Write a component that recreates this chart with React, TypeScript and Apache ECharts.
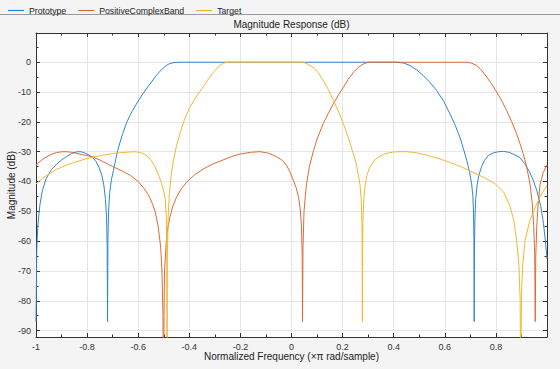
import React, { useEffect, useRef } from "react";
import * as echarts from "echarts";

const seriesNames = ["Prototype", "PositiveComplexBand", "Target"];

const prototype: number[][] = [
  [-1, -87], [-0.997, -63], [-0.993, -55], [-0.985, -48], [-0.975, -43], [-0.96, -39],
  [-0.94, -36], [-0.92, -34.3], [-0.9, -32.8], [-0.88, -31.6], [-0.86, -30.6], [-0.84, -30.05],
  [-0.825, -30], [-0.81, -30.4], [-0.795, -31], [-0.78, -31.8], [-0.765, -33.3], [-0.752, -35.5],
  [-0.742, -38], [-0.734, -41.5], [-0.728, -46], [-0.724, -52], [-0.7215, -62], [-0.72, -87],
  [-0.7185, -60], [-0.716, -50], [-0.712, -44], [-0.705, -39.5], [-0.697, -36.3], [-0.688, -32.6],
  [-0.68, -29.6], [-0.67, -26.5], [-0.661, -24], [-0.645, -20.2], [-0.63, -17.5], [-0.622, -16.2],
  [-0.6, -13], [-0.582, -10.6], [-0.56, -8], [-0.53, -4.5], [-0.51, -2.6], [-0.49, -1.1],
  [-0.478, -0.5], [-0.46, -0.12], [-0.44, 0], [0, 0], [0.412, 0], [0.44, -0.3], [0.464, -1.1],
  [0.49, -2.6], [0.516, -4.5], [0.54, -6.6], [0.568, -9.5], [0.595, -13], [0.62, -17.3],
  [0.64, -21], [0.659, -25.1], [0.673, -29], [0.686, -33], [0.696, -36.5], [0.705, -40.8],
  [0.71, -45], [0.7125, -51], [0.714, -60], [0.715, -87], [0.716, -62], [0.718, -52],
  [0.721, -46], [0.726, -41.5], [0.733, -38], [0.744, -35], [0.755, -33], [0.77, -31.3],
  [0.79, -30.4], [0.81, -30], [0.83, -29.9], [0.85, -30.2], [0.87, -30.9], [0.894, -32],
  [0.912, -34], [0.93, -36.5], [0.946, -39.5], [0.96, -43], [0.975, -48], [0.986, -54],
  [0.995, -61], [1, -66],
];

const positiveComplexBand: number[][] = [
  [-1, -34.5], [-0.98, -33], [-0.96, -31.8], [-0.94, -30.9], [-0.92, -30.3], [-0.9, -30.05],
  [-0.883, -30], [-0.86, -30.2], [-0.84, -30.6], [-0.82, -31], [-0.8, -31.3], [-0.778, -31.8],
  [-0.75, -32.8], [-0.72, -34.1], [-0.7, -35], [-0.66, -36.6], [-0.63, -38], [-0.6, -40],
  [-0.58, -42], [-0.56, -44.5], [-0.545, -47.3], [-0.534, -50], [-0.522, -55], [-0.512, -62],
  [-0.507, -70], [-0.503, -85], [-0.501, -120], [-0.499, -85], [-0.497, -70], [-0.49, -60],
  [-0.483, -55], [-0.476, -52], [-0.465, -48.5], [-0.449, -45], [-0.43, -42.3], [-0.41, -40.2],
  [-0.38, -37.8], [-0.345, -35.8], [-0.31, -34.2], [-0.28, -33.2], [-0.24, -31.8], [-0.202, -30.8],
  [-0.16, -30.2], [-0.123, -30], [-0.09, -30.5], [-0.058, -31.7], [-0.035, -33], [-0.019, -34.6],
  [-0.005, -37], [0.007, -39.6], [0.018, -42], [0.027, -45], [0.034, -49], [0.039, -55],
  [0.042, -65], [0.043, -87], [0.045, -62], [0.049, -50], [0.054, -45], [0.059, -40.8],
  [0.07, -35], [0.085, -30], [0.1, -25.8], [0.124, -20.6], [0.145, -17], [0.164, -13.9],
  [0.185, -10.8], [0.203, -8.4], [0.222, -5.8], [0.242, -3.4], [0.262, -1.7], [0.281, -0.6],
  [0.3, 0], [0.686, 0], [0.705, -0.3], [0.725, -1.1], [0.745, -2.8], [0.764, -5],
  [0.785, -7.5], [0.803, -10], [0.822, -12.8], [0.842, -16.2], [0.862, -20], [0.881, -24],
  [0.895, -27.5], [0.907, -30.7], [0.92, -35], [0.933, -40.5], [0.942, -47], [0.948, -55],
  [0.952, -65], [0.954, -87], [0.956, -65], [0.96, -55], [0.965, -48], [0.973, -41],
  [0.985, -37], [1, -34.5],
];

const target: number[][] = [
  [-1, -40.8], [-0.975, -39], [-0.948, -37.4], [-0.92, -35.9], [-0.883, -34.6], [-0.85, -33.6],
  [-0.804, -32.4], [-0.77, -31.7], [-0.739, -31.2], [-0.7, -30.6], [-0.648, -30.2], [-0.615, -30],
  [-0.59, -30.3], [-0.569, -31.2], [-0.552, -32.6], [-0.537, -34.6], [-0.524, -37], [-0.511, -40],
  [-0.502, -42.5], [-0.494, -46], [-0.49, -52], [-0.488, -62], [-0.487, -120], [-0.486, -65],
  [-0.483, -52], [-0.478, -44], [-0.47, -37], [-0.46, -32], [-0.45, -28], [-0.435, -23.5],
  [-0.42, -19.5], [-0.4, -15.5], [-0.38, -12.5], [-0.36, -10], [-0.34, -7.5], [-0.32, -5],
  [-0.3, -2.8], [-0.28, -1], [-0.265, -0.25], [-0.25, 0], [0.046, 0], [0.06, -0.5],
  [0.085, -1.7], [0.105, -3.6], [0.124, -6.1], [0.145, -9.3], [0.164, -12.8], [0.185, -16.8],
  [0.203, -20.6], [0.222, -25.2], [0.242, -30.7], [0.253, -34], [0.261, -37.4], [0.268, -41],
  [0.273, -46], [0.276, -55], [0.2775, -87], [0.2785, -60], [0.28, -52], [0.283, -46],
  [0.288, -41.5], [0.295, -38], [0.305, -35.5], [0.32, -33.3], [0.34, -31.8], [0.36, -30.9],
  [0.38, -30.4], [0.4, -30.1], [0.425, -30], [0.45, -30], [0.475, -30.2], [0.503, -30.6],
  [0.535, -31.3], [0.568, -32.1], [0.6, -33], [0.633, -34], [0.67, -35.3], [0.699, -36.5],
  [0.73, -37.7], [0.764, -39.1], [0.8, -41], [0.83, -43.5], [0.855, -48.3], [0.87, -53],
  [0.881, -59.8], [0.89, -68], [0.895, -80], [0.897, -120], [0.9, -78], [0.905, -68],
  [0.914, -59.8], [0.933, -53], [0.96, -47.5], [0.98, -44], [1, -41.3],
];

const colors = ["#2f86cf", "#dd6a36", "#efb832"];
const FONT = '"Liberation Sans", Arial, Helvetica, sans-serif';
const AXIS_COLOR = "#333";
const GRID_COLOR = "#e6e6e6";

export default function App() {
  const ref = useRef<HTMLDivElement>(null);

  useEffect(() => {
    if (!ref.current) return;
    const chart = echarts.init(ref.current, undefined, { renderer: "svg" });

    const baseX = {
      type: "value" as const,
      min: -1,
      max: 1,
      interval: 0.2,
      axisLine: { show: true, onZero: false, lineStyle: { color: AXIS_COLOR, width: 1 } },
      axisTick: { show: true, inside: true, length: 4, lineStyle: { color: AXIS_COLOR } },
      minorTick: { show: true, splitNumber: 2, length: 2.5, lineStyle: { color: AXIS_COLOR } },
    };
    const baseY = {
      type: "value" as const,
      min: -92.15,
      max: 9.8,
      splitNumber: 10,
      axisLine: { show: true, onZero: false, lineStyle: { color: AXIS_COLOR, width: 1 } },
      axisTick: { show: true, inside: true, length: 4, lineStyle: { color: AXIS_COLOR } },
      minorTick: { show: true, splitNumber: 2, length: 2.5, lineStyle: { color: AXIS_COLOR } },
    };

    chart.setOption({
      animation: false,
      backgroundColor: "#f4f4f4",
      textStyle: { fontFamily: FONT },
      color: colors,
      legend: {
        data: seriesNames,
        left: 3,
        top: 1,
        icon: "rect",
        itemWidth: 16,
        itemHeight: 1.2,
        itemGap: 12,
        textStyle: { fontSize: 8.7, color: "#222", fontFamily: FONT },
      },
      graphic: [
        {
          type: "line",
          shape: { x1: 0, y1: 14.5, x2: 560, y2: 14.5 },
          style: { stroke: "#9a9a9a", lineWidth: 1 },
          silent: true,
        },
        {
          type: "text",
          x: 291.5,
          y: 24,
          style: {
            text: "Magnitude Response (dB)",
            align: "center",
            verticalAlign: "middle",
            fontSize: 10,
            fontFamily: FONT,
            fill: "#222",
          },
          silent: true,
        },
      ],
      grid: {
        left: 36,
        right: 13,
        top: 33,
        bottom: 32,
        show: true,
        backgroundColor: "#ffffff",
        borderWidth: 0,
        outerBoundsMode: "none",
      },
      xAxis: [
        {
          ...baseX,
          position: "bottom",
          splitLine: { show: true, lineStyle: { color: GRID_COLOR, width: 1 } },
          axisLabel: {
            show: true,
            fontSize: 9,
            color: "#333",
            margin: 5,
            showMaxLabel: false,
            fontFamily: FONT,
          },
          name: "Normalized Frequency (×π rad/sample)",
          nameLocation: "middle",
          nameGap: 14,
          nameMoveOverlap: false,
          nameTextStyle: { fontSize: 10, color: "#222", fontFamily: FONT },
        },
        {
          ...baseX,
          position: "top",
          splitLine: { show: false },
          axisLabel: { show: false },
        },
      ],
      yAxis: [
        {
          ...baseY,
          position: "left",
          splitLine: { show: true, lineStyle: { color: GRID_COLOR, width: 1 } },
          axisLabel: {
            show: true,
            fontSize: 9,
            color: "#333",
            margin: 5,
            showMinLabel: false,
            showMaxLabel: false,
            fontFamily: FONT,
          },
          name: "Magnitude (dB)",
          nameLocation: "middle",
          nameGap: 20,
          nameMoveOverlap: false,
          nameTextStyle: { fontSize: 10, color: "#222", fontFamily: FONT },
        },
        {
          ...baseY,
          position: "right",
          splitLine: { show: false },
          axisLabel: { show: false },
        },
      ],
      series: [
        { name: seriesNames[0], data: prototype },
        { name: seriesNames[1], data: positiveComplexBand },
        { name: seriesNames[2], data: target },
      ].map((s, i) => ({
        ...s,
        type: "line",
        xAxisIndex: 0,
        yAxisIndex: 0,
        showSymbol: false,
        symbol: "none",
        clip: true,
        lineStyle: { width: 1, color: colors[i] },
        itemStyle: { color: colors[i] },
        emphasis: { disabled: true },
      })),
    });

    return () => {
      chart.dispose();
    };
  }, []);

  return (
    <div
      ref={ref}
      style={{ position: "absolute", left: 0, top: 0, width: 560, height: 369 }}
    />
  );
}
